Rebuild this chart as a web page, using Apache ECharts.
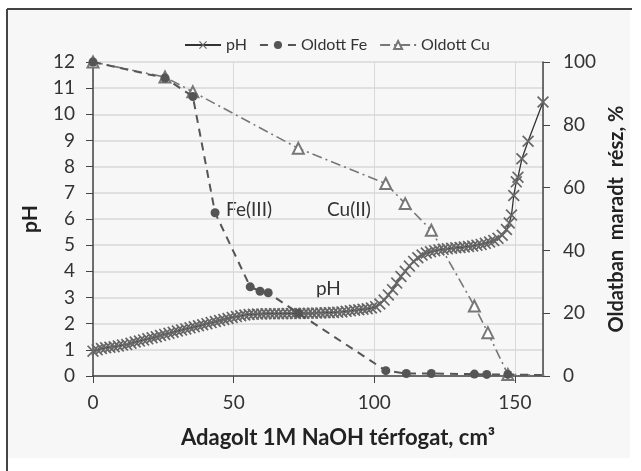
<!DOCTYPE html>
<html>
<head>
<meta charset="utf-8">
<script src="https://cdn.jsdelivr.net/npm/echarts@6/dist/echarts.min.js"></script>
<style>
html, body { margin: 0; padding: 0; background: #ffffff; }
#chart { width: 641px; height: 471px; }
</style>
</head>
<body>
<div id="chart"></div>
<script>
// pH görbe: [térfogat, pH]
var phData = [
    [0, 0.95], [1.5, 1.0], [3, 1.05], [4.5, 1.08], [6, 1.1], [7.5, 1.12], [9, 1.15], [10.5, 1.18],
    [12, 1.2], [13.5, 1.25], [15, 1.3], [16.5, 1.34], [18, 1.38], [19.5, 1.42], [21, 1.46], [22.5, 1.5],
    [24, 1.55], [25.5, 1.59], [27, 1.63], [28.5, 1.67], [30, 1.72], [31.5, 1.76], [33, 1.8], [34.5, 1.84],
    [36, 1.88], [37.5, 1.92], [39, 1.96], [40.5, 2.0], [42, 2.04], [43.5, 2.08], [45, 2.12], [46.5, 2.16],
    [48, 2.2], [49.5, 2.24], [51, 2.27], [52.5, 2.3], [54, 2.33], [55.5, 2.35], [57, 2.36], [58.5, 2.37],
    [60, 2.37], [61.5, 2.38], [63, 2.38], [64.5, 2.38], [66, 2.38], [67.5, 2.38], [69, 2.39], [70.5, 2.39],
    [72, 2.39], [73.5, 2.39], [75, 2.4], [76.5, 2.4], [78, 2.4], [79.5, 2.41], [81, 2.41], [82.5, 2.42],
    [84, 2.42], [85.5, 2.43], [87, 2.44], [88.5, 2.45], [90, 2.47], [91.5, 2.49], [93, 2.51], [94.5, 2.53],
    [96, 2.55], [97.5, 2.57], [99, 2.6], [100.5, 2.65], [102, 2.75], [103.5, 2.9], [105, 3.1], [106.5, 3.3],
    [108, 3.55], [109.5, 3.8], [111, 4.0], [112.5, 4.2], [114, 4.38], [115.5, 4.52], [117, 4.62], [118.5, 4.7],
    [120, 4.75], [121.5, 4.79], [123, 4.82], [124.5, 4.84], [126, 4.86], [127.5, 4.88], [129, 4.9], [130.5, 4.91],
    [132, 4.93], [133.5, 4.95], [135, 4.97], [136.5, 5.0], [138, 5.03], [139.5, 5.07], [141, 5.12], [142.5, 5.18],
    [144, 5.26], [145.5, 5.38], [147, 5.6], [148, 5.85], [148.8, 6.15], [149.6, 6.9], [150.5, 7.42], [151.1, 7.6],
    [152.5, 8.3], [154.7, 8.97], [160, 10.47]
];

// Oldott Fe, %
var feData = [
    [0, 100], [25.6, 94.9], [35.5, 89], [43.4, 52], [55.9, 28.4], [59.4, 27], [62.3, 26.5], [73, 20],
    [104.1, 1.7], [111.4, 0.8], [120.3, 0.8], [135.6, 0.6], [140, 0.5], [147.5, 0.5], [160.5, 0.3]
];

// Oldott Cu, %
var cuData = [
    [0, 100], [25.6, 95.2], [35.5, 90.5], [73, 72.5], [104.1, 61.3], [111, 54.9], [120.3, 46.4],
    [135.6, 22.3], [140.4, 13.8], [147.5, 0.5], [160.5, 0.2]
];

var seriesNames = ['pH', 'Oldott Fe', 'Oldott Cu'];

var chart = echarts.init(document.getElementById('chart'));
var font = 'Lato, "Open Sans", sans-serif';
var crossPath = 'path://M0,1L1,0L5,4L9,0L10,1L6,5L10,9L9,10L5,6L1,10L0,9L4,5Z';

var option = {
    backgroundColor: '#ffffff',
    animation: false,
    textStyle: { fontFamily: font },
    graphic: [
        { type: 'rect', shape: { x: 8, y: 9, width: 622, height: 449 }, style: { fill: '#f7f7f7' }, z: -10 },
        { type: 'line', shape: { x1: 7, y1: 9, x2: 632, y2: 9 }, style: { stroke: '#444', lineWidth: 2 } },
        { type: 'line', shape: { x1: 7, y1: 9, x2: 7, y2: 471 }, style: { stroke: '#444', lineWidth: 2 } },
        { type: 'text', left: 226, top: 200, style: { text: 'Fe(III)', fontSize: 19, fill: '#333', fontFamily: font } },
        { type: 'text', left: 327, top: 200, style: { text: 'Cu(II)', fontSize: 19, fill: '#333', fontFamily: font } },
        { type: 'text', left: 316, top: 279, style: { text: 'pH', fontSize: 19, fill: '#333', fontFamily: font } },
        { type: 'text', left: 181, top: 427, style: { text: 'Adagolt 1M NaOH térfogat, cm³', fontSize: 22, fontWeight: 'bold', fill: '#222', fontFamily: font } }
    ],
    legend: {
        top: 32,
        left: 179,
        itemWidth: 36,
        itemHeight: 10,
        itemGap: 12,
        textStyle: { fontSize: 16, color: '#333', fontFamily: font },
        data: seriesNames
    },
    grid: { left: 93, right: 98, top: 62, bottom: 95 },
    xAxis: {
        type: 'value',
        min: 0,
        max: 160,
        interval: 50,
        axisLine: { onZero: false, lineStyle: { color: '#444', width: 1.5 } },
        axisTick: { lineStyle: { color: '#444' }, length: 7 },
        axisLabel: { fontSize: 19, color: '#333', margin: 17, showMaxLabel: false },
        splitLine: { show: true, lineStyle: { color: '#d9d9d9' } }
    },
    yAxis: [{
        type: 'value',
        min: 0,
        max: 12,
        interval: 1,
        name: 'pH',
        nameLocation: 'middle',
        nameRotate: 90,
        nameGap: 52,
        nameTextStyle: { fontSize: 21, fontWeight: 'bold', color: '#222', fontFamily: font },
        axisLine: { show: true, lineStyle: { color: '#444', width: 1.5 } },
        axisTick: { show: true, lineStyle: { color: '#444' }, length: 7 },
        axisLabel: { fontSize: 19, color: '#333', margin: 18 },
        splitLine: { show: true, lineStyle: { color: '#d9d9d9', width: 1.5 } }
    }, {
        type: 'value',
        min: 0,
        max: 100,
        interval: 20,
        position: 'right',
        name: 'Oldatban  maradt  rész, %',
        nameLocation: 'middle',
        nameRotate: 90,
        nameGap: 60,
        nameTextStyle: { fontSize: 20, fontWeight: 'bold', color: '#222', fontFamily: font },
        axisLine: { show: true, lineStyle: { color: '#444', width: 1.5 } },
        axisTick: { show: true, lineStyle: { color: '#444' }, length: 7 },
        axisLabel: { fontSize: 19, color: '#333', margin: 20 },
        splitLine: { show: false }
    }],
    series: [{
        name: seriesNames[0],
        type: 'line',
        yAxisIndex: 0,
        data: phData,
        symbol: crossPath,
        symbolSize: 12,
        itemStyle: { color: '#666' },
        lineStyle: { color: '#333', width: 1.3 },
        z: 3
    }, {
        name: seriesNames[1],
        type: 'line',
        yAxisIndex: 1,
        data: feData,
        symbol: 'circle',
        symbolSize: 9,
        itemStyle: { color: '#555' },
        lineStyle: { color: '#555', width: 2, type: [8, 6] },
        z: 4
    }, {
        name: seriesNames[2],
        type: 'line',
        yAxisIndex: 1,
        data: cuData,
        symbol: 'emptyTriangle',
        symbolSize: 11,
        itemStyle: { color: '#777', borderColor: '#777', borderWidth: 1.2 },
        lineStyle: { color: '#777', width: 1.6, type: [10, 4, 2, 4] },
        z: 2
    }]
};

chart.setOption(option);
</script>
</body>
</html>
